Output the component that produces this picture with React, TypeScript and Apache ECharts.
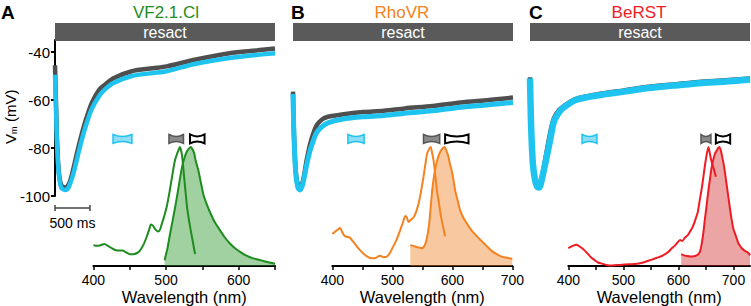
import React, { useEffect, useRef } from 'react';
import * as echarts from 'echarts';

const FONT = "'Liberation Sans', Arial, Helvetica, sans-serif";

// ---------- membrane potential traces: [time (ms), Vm (mV)] ----------
const traceAGrey = [[0,-45.5],[15,-62],[30,-78],[55,-90],[90,-95.5],[150,-96.5],[200,-95],[260,-89],[320,-81.5],[380,-74.5],[450,-67.5],[530,-61],[640,-55.5],[720,-53.5],[830,-51],[1100,-48],[1400,-46.8],[1600,-46],[2000,-43.2],[2500,-40.5],[2900,-39.3],[3150,-38.5]];
const traceACyan = [[0,-49.5],[15,-64],[30,-79],[55,-91],[90,-96.5],[150,-97.5],[200,-96],[260,-91],[320,-84],[380,-77],[450,-70],[530,-63.5],[640,-58],[720,-55.5],[830,-53],[1100,-50],[1400,-48.8],[1600,-48],[2000,-45],[2500,-42.5],[2900,-41.2],[3150,-40.5]];
const traceBGrey = [[0,-56.5],[15,-75],[40,-90],[70,-95.5],[100,-96.5],[140,-94],[196,-85],[240,-79],[290,-74],[340,-70.5],[420,-68],[500,-67],[700,-66],[1000,-65],[1300,-64.5],[1600,-63.5],[2000,-62.5],[2400,-61],[2800,-60],[3150,-59]];
const traceBCyan = [[0,-57.5],[15,-76],[40,-91],[70,-96.5],[100,-97.5],[140,-95],[196,-87],[240,-81.5],[290,-77],[340,-73.5],[420,-71],[500,-69.5],[700,-68],[1000,-67],[1300,-66.5],[1600,-65.5],[2000,-64.5],[2400,-63],[2800,-62],[3150,-61]];
const traceCGrey = [[0,-50.5],[15,-69],[40,-85],[70,-92.5],[100,-95],[130,-95.5],[170,-92],[229,-83],[286,-74],[343,-67.5],[420,-64],[486,-62.5],[657,-59.5],[986,-57.5],[1350,-56],[1700,-54.5],[2050,-53.5],[2415,-52.5],[2800,-51.8],[3150,-51]];
const traceCCyan = [[0,-51],[15,-70],[40,-86],[70,-93],[100,-96],[130,-96.5],[170,-93],[229,-85],[286,-77],[343,-69],[420,-65],[486,-63],[657,-60],[986,-58],[1350,-56.5],[1700,-55],[2050,-54],[2415,-53],[2800,-52.3],[3150,-51.5]];

// resact application window (ms) and time scale bar (ms)
const stimulus = [[0, 3150]];
const scaleBar = [[0, 500]];
const TIME_MAX = 3150;

// voltage axis
const V_MIN = -100;
const V_MAX = -35;
const V_TICKS = [-100, -80, -60, -40];

// ---------- normalised spectra: [wavelength (nm), intensity] ----------
const exA = [[400,0.175],[405,0.17],[410,0.175],[415,0.185],[420,0.17],[425,0.15],[430,0.135],[435,0.13],[440,0.13],[445,0.115],[450,0.1],[455,0.1],[460,0.11],[464,0.13],[469,0.18],[473,0.24],[477,0.31],[479,0.35],[482,0.34],[485,0.31],[489,0.29],[492,0.31],[494,0.35],[498,0.43],[501,0.5],[505,0.63],[508,0.74],[512,0.88],[515,0.94],[517,0.97],[519,1.0],[522,0.93],[525,0.74],[529,0.49],[532,0.37],[534,0.3],[537,0.2],[540,0.1]];
const emA = [[498,0.05],[502,0.15],[505.5,0.27],[509,0.38],[512.4,0.49],[515,0.58],[518,0.69],[521,0.8],[524,0.88],[528.5,0.96],[534,1.0],[538.6,0.95],[541,0.88],[544.6,0.8],[548,0.7],[551.5,0.6],[556,0.52],[560.7,0.45],[567,0.37],[574.4,0.3],[581,0.24],[588,0.19],[595,0.15],[602,0.12],[610,0.09],[620,0.065],[630,0.05],[638,0.036],[650,0.02]];
const exB = [[400,0.27],[405,0.29],[410,0.31],[413,0.32],[417,0.28],[421,0.25],[425,0.245],[429,0.24],[437,0.19],[445,0.14],[453,0.1],[462,0.07],[468,0.065],[473,0.07],[478,0.085],[481,0.085],[485,0.075],[491,0.08],[496,0.11],[502,0.17],[507,0.22],[513,0.3],[518,0.37],[521.5,0.42],[524,0.41],[527,0.37],[531,0.39],[535.6,0.41],[540,0.46],[544,0.53],[548,0.63],[552,0.75],[555,0.85],[557.8,0.94],[561,0.98],[564,1.0],[566,0.96],[569,0.88],[572,0.75],[574.5,0.63],[578,0.52],[581,0.42],[585,0.32],[588,0.25]];
const emB = [[530,0.175],[535,0.17],[540.6,0.16],[545,0.155],[549,0.15],[553,0.165],[556,0.2],[559,0.27],[561.6,0.36],[564,0.5],[567,0.66],[570,0.77],[573,0.85],[576,0.91],[580,0.96],[584,0.99],[587,1.0],[590,0.97],[593.5,0.92],[596,0.86],[599,0.8],[602,0.72],[605,0.63],[609,0.55],[613,0.47],[618,0.41],[624,0.36],[632,0.3],[641,0.25],[649,0.21],[657,0.17],[665,0.13],[674,0.1],[682,0.08],[691,0.07],[700,0.06]];
const exC = [[400,0.15],[408,0.17],[415,0.18],[422,0.16],[430,0.13],[436,0.1],[442,0.07],[448,0.05],[454,0.03],[462,0.02],[469,0.01],[480,0.005],[494,0.01],[510,0.015],[525,0.02],[536,0.03],[549,0.05],[561,0.07],[570,0.085],[576,0.1],[582,0.12],[588,0.15],[593,0.17],[597,0.19],[603,0.22],[607,0.21],[612,0.24],[617,0.26],[621,0.29],[626,0.33],[630,0.38],[635,0.45],[639,0.56],[643,0.67],[646.5,0.79],[649,0.87],[651.5,0.94],[654.5,1.0],[657,0.95],[659,0.9],[662,0.85],[664,0.82],[668,0.75]];
const emC = [[605,0.1],[610,0.09],[615,0.085],[622,0.08],[630,0.085],[635,0.095],[639,0.12],[642,0.18],[645,0.27],[648,0.39],[651.5,0.52],[654,0.62],[657.6,0.74],[660,0.82],[663.6,0.9],[667,0.95],[669.7,0.97],[672,0.99],[674.5,1.0],[677,0.97],[679,0.93],[682,0.86],[685,0.77],[688,0.67],[691,0.57],[694,0.47],[697,0.38],[700,0.31],[703,0.27],[706,0.23],[709,0.19],[712,0.17],[715,0.15],[720,0.13],[724,0.12],[727,0.11],[730,0.09]];

// filter bands [start nm, end nm, kind] kind: 0 excitation(cyan), 1 dichroic(grey), 2 emission(black)
const filtersA = [[427,453,0],[504,524,1],[533,553,2]];
const filtersB = [[426,453,0],[552,579,1],[588,627,2]];
const filtersC = [[425,452,0],[641,659,1],[668,694,2]];

const wlRanges = [[400, 650], [400, 700], [400, 730]];
const wlTicks = [
  [400, 450, 500, 550, 600, 650],
  [400, 450, 500, 550, 600, 650, 700],
  [400, 450, 500, 550, 600, 650, 700],
];
const wlLabels = [400, 500, 600, 700];

const dyes = ['VF2.1.Cl', 'RhoVR', 'BeRST'];
const letters = ['A', 'B', 'C'];
const dyeColors = ['#1f8c1f', '#f58220', '#ee1c24'];
const dyeFills = ['rgba(40,150,40,0.62)', 'rgba(238,130,40,0.62)', 'rgba(210,40,40,0.6)'];

const GREY = '#4f4f4f';
const CYAN = '#1ec3ef';

export default function App() {
  const ref = useRef<HTMLDivElement>(null);
  useEffect(() => {
    document.body.style.margin = '0';
    if (!ref.current) return;
    const chart = echarts.init(ref.current, undefined, { renderer: 'svg' });

    const traceGrids = [
      { left: 55, top: 40, width: 220, height: 156 },
      { left: 293, top: 40, width: 220, height: 156 },
      { left: 530, top: 40, width: 220, height: 156 },
    ];
    const specGrids = [
      { left: 93.4, top: 147, width: 181.6, height: 121 },
      { left: 332.3, top: 147, width: 180, height: 121 },
      { left: 568.3, top: 147, width: 181.7, height: 121 },
    ];

    const xAxes: any[] = [];
    const yAxes: any[] = [];
    for (let i = 0; i < 3; i++) {
      xAxes.push({ gridIndex: i, type: 'value', min: 0, max: TIME_MAX, show: false });
      yAxes.push({
        gridIndex: i, type: 'value', min: V_MIN, max: V_MAX, interval: 20, show: i === 0,
        axisLine: { show: true, lineStyle: { color: '#000', width: 2 } },
        axisTick: { show: true, length: 4, customValues: V_TICKS, lineStyle: { color: '#000', width: 2 } },
        axisLabel: { customValues: V_TICKS, fontSize: 15, color: '#000', fontFamily: FONT, margin: 5,
          formatter: (v: number) => (v % 20 === 0 ? String(v) : '') },
        splitLine: { show: false },
      });
    }
    for (let i = 0; i < 3; i++) {
      xAxes.push({
        gridIndex: 3 + i, type: 'value', min: wlRanges[i][0], max: wlRanges[i][1], interval: 50,
        axisLine: { show: true, onZero: false, lineStyle: { color: '#000', width: 2 } },
        axisTick: { show: true, length: 4, customValues: wlTicks[i], lineStyle: { color: '#000', width: 1.5 } },
        axisLabel: { customValues: wlLabels.filter((v) => v <= wlRanges[i][1]), fontSize: 14, color: '#000', fontFamily: FONT, margin: 7,
          formatter: (v: number) => (v % 100 === 0 ? String(v) : '') },
        splitLine: { show: false },
        name: 'Wavelength (nm)', nameLocation: 'middle', nameGap: 21,
        nameTextStyle: { fontSize: 16.5, color: '#000', fontFamily: FONT },
      });
      yAxes.push({ gridIndex: 3 + i, type: 'value', min: 0, max: 1, show: false });
    }

    const traces = [[traceAGrey, traceACyan], [traceBGrey, traceBCyan], [traceCGrey, traceCCyan]];
    const spectra = [[exA, emA], [exB, emB], [exC, emC]];
    const filters = [filtersA, filtersB, filtersC];
    const cyanWidths = [4.5, 5, 6.5];

    const BAR_TOP = -27.9;
    const BAR_BOTTOM = -35.4;
    const ICON_TOP = 1.105;
    const ICON_BOTTOM = 1.03;

    const series: any[] = [];
    for (let i = 0; i < 3; i++) {
      series.push({
        type: 'custom', xAxisIndex: i, yAxisIndex: i, data: stimulus, silent: true,
        renderItem: (_p: any, api: any) => {
          const p0 = api.coord([api.value(0), BAR_TOP]);
          const p1 = api.coord([api.value(1), BAR_BOTTOM]);
          return {
            type: 'group',
            children: [
              { type: 'rect', shape: { x: p0[0], y: p0[1], width: p1[0] - p0[0], height: p1[1] - p0[1] }, style: { fill: '#5a5a5a' } },
              { type: 'text', x: (p0[0] + p1[0]) / 2, y: (p0[1] + p1[1]) / 2 + 0.5,
                style: { text: 'resact', fill: '#fff', fontSize: 16, fontFamily: FONT, align: 'center', verticalAlign: 'middle' } },
            ],
          };
        },
      });
      series.push({
        type: 'line', xAxisIndex: i, yAxisIndex: i, data: traces[i][0], showSymbol: false, smooth: 0.3,
        lineStyle: { color: GREY, width: 4.5 }, silent: true,
      });
      series.push({
        type: 'line', xAxisIndex: i, yAxisIndex: i, data: traces[i][1], showSymbol: false, smooth: 0.3,
        lineStyle: { color: CYAN, width: cyanWidths[i] }, silent: true,
      });
      // spectra
      series.push({
        type: 'line', xAxisIndex: 3 + i, yAxisIndex: 3 + i, data: spectra[i][1], showSymbol: false, smooth: 0.2,
        lineStyle: { color: dyeColors[i], width: 2 }, areaStyle: { color: dyeFills[i], origin: 'start' }, silent: true,
      });
      series.push({
        type: 'line', xAxisIndex: 3 + i, yAxisIndex: 3 + i, data: spectra[i][0], showSymbol: false, smooth: 0.2,
        lineStyle: { color: dyeColors[i], width: 2 }, silent: true,
      });
      series.push({
        type: 'custom', xAxisIndex: 3 + i, yAxisIndex: 3 + i, data: filters[i], silent: true,
        renderItem: (_p: any, api: any) => {
          const a = api.coord([api.value(0), ICON_TOP]);
          const b = api.coord([api.value(1), ICON_BOTTOM]);
          const kind = api.value(2);
          const x0 = a[0], y0 = a[1], x1 = b[0], y1 = b[1];
          const xm = (x0 + x1) / 2;
          const d = (y1 - y0) * 0.45;
          const pathData = `M${x0} ${y0} Q${xm} ${y0 + d} ${x1} ${y0} L${x1} ${y1} Q${xm} ${y1 - d} ${x0} ${y1} Z`;
          const style = kind === 0
            ? { fill: '#8fdcf4', stroke: CYAN, lineWidth: 1.5 }
            : kind === 1
              ? { fill: '#8a8a8a', stroke: '#555', lineWidth: 1.5 }
              : { fill: '#fff', stroke: '#000', lineWidth: 2 };
          return { type: 'path', shape: { pathData }, style };
        },
      });
    }
    // time scale bar (panel A)
    series.push({
      type: 'custom', xAxisIndex: 0, yAxisIndex: 0, data: scaleBar, silent: true,
      renderItem: (_p: any, api: any) => {
        const a = api.coord([api.value(0), -105]);
        const b = api.coord([api.value(1), -105]);
        const t = api.coord([(api.value(0) + api.value(1)) / 2, -111.2]);
        const st = { stroke: '#444', lineWidth: 1.5 };
        return {
          type: 'group',
          children: [
            { type: 'line', shape: { x1: a[0], y1: a[1], x2: b[0], y2: b[1] }, style: st },
            { type: 'line', shape: { x1: a[0], y1: a[1] - 3, x2: a[0], y2: a[1] + 3 }, style: st },
            { type: 'line', shape: { x1: b[0], y1: b[1] - 3, x2: b[0], y2: b[1] + 3 }, style: st },
            { type: 'text', x: t[0], y: t[1],
              style: { text: `${api.value(1) - api.value(0)} ms`, fill: '#000', fontSize: 14, fontFamily: FONT, align: 'center', verticalAlign: 'middle' } },
          ],
        };
      },
    });

    const titleX = [166, 402, 639];
    const letterX = [1, 291, 529];
    const graphic: any[] = [];
    for (let i = 0; i < 3; i++) {
      graphic.push({ type: 'text', x: letterX[i], y: 12, style: { text: letters[i], fill: '#000', fontSize: 19, fontWeight: 'bold', fontFamily: FONT, verticalAlign: 'middle' } });
      graphic.push({ type: 'text', x: titleX[i], y: 12, style: { text: dyes[i], fill: dyeColors[i], fontSize: 17, fontFamily: FONT, align: 'center', verticalAlign: 'middle' } });
    }
    graphic.push({
      type: 'group', x: 10, y: 117, rotation: Math.PI / 2,
      children: [
        { type: 'text', x: -27, y: 0, style: { text: 'V', fill: '#000', fontSize: 15, fontFamily: FONT, verticalAlign: 'middle' } },
        { type: 'text', x: -17, y: 4, style: { text: 'm', fill: '#000', fontSize: 9, fontFamily: FONT, verticalAlign: 'middle' } },
        { type: 'text', x: -5, y: 0, style: { text: '(mV)', fill: '#000', fontSize: 15, fontFamily: FONT, verticalAlign: 'middle' } },
      ],
    });

    chart.setOption({
      animation: false,
      textStyle: { fontFamily: FONT },
      grid: [...traceGrids, ...specGrids],
      xAxis: xAxes,
      yAxis: yAxes,
      series,
      graphic,
    });
    return () => chart.dispose();
  }, []);
  return <div ref={ref} style={{ width: 751, height: 306 }} />;
}
